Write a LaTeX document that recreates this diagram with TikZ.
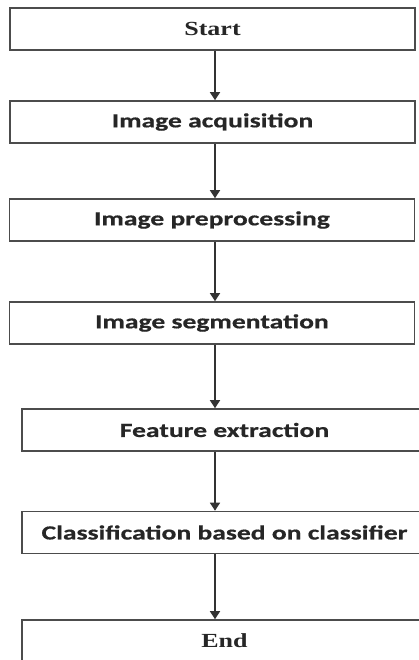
\documentclass[tikz,border=0pt]{standalone}
\usepackage{fontspec}
\usepackage{tikz}
\usetikzlibrary{arrows.meta}
\newfontfamily\sansstep[FakeStretch=1.38,FakeBold=0.6]{Carlito}
\newfontfamily\serifstep[FakeStretch=1.3]{Liberation Serif}

\begin{document}
\begin{tikzpicture}[x=1pt,y=-1pt,
  box/.style={draw=black!70,line width=1.6pt,minimum width=405pt,minimum height=42pt,inner sep=0pt,text=black!85,font=\sansstep\bfseries\fontsize{20}{22}\selectfont},
  endbox/.style={box,font=\serifstep\bfseries\fontsize{20}{22}\selectfont},
  flow/.style={draw=black!80,line width=1.5pt,-{Triangle[width=10pt,length=8pt]}}]
\useasboundingbox (0,0) rectangle (419,660);
\node [endbox] (start) at (212.5,29) {Start};
\node [box] (acq) at (212.5,122) {Image acquisition};
\node [box] (pre) at (212,220) {Image preprocessing};
\node [box] (seg) at (212,323) {Image segmentation};
\node [box] (feat) at (224.5,430) {Feature extraction};
\node [box] (cls) at (224.5,532.5) {Classification based on classifier};
\node [endbox] (end) at (224.5,641) {End};
\coordinate (axis) at (215,0);
\draw [flow] (start.south -| axis) -- (acq.north -| axis);
\draw [flow] (acq.south -| axis) -- (pre.north -| axis);
\draw [flow] (pre.south -| axis) -- (seg.north -| axis);
\draw [flow] (seg.south -| axis) -- (feat.north -| axis);
\draw [flow] (feat.south -| axis) -- (cls.north -| axis);
\draw [flow] (cls.south -| axis) -- (end.north -| axis);
\end{tikzpicture}
\end{document}
